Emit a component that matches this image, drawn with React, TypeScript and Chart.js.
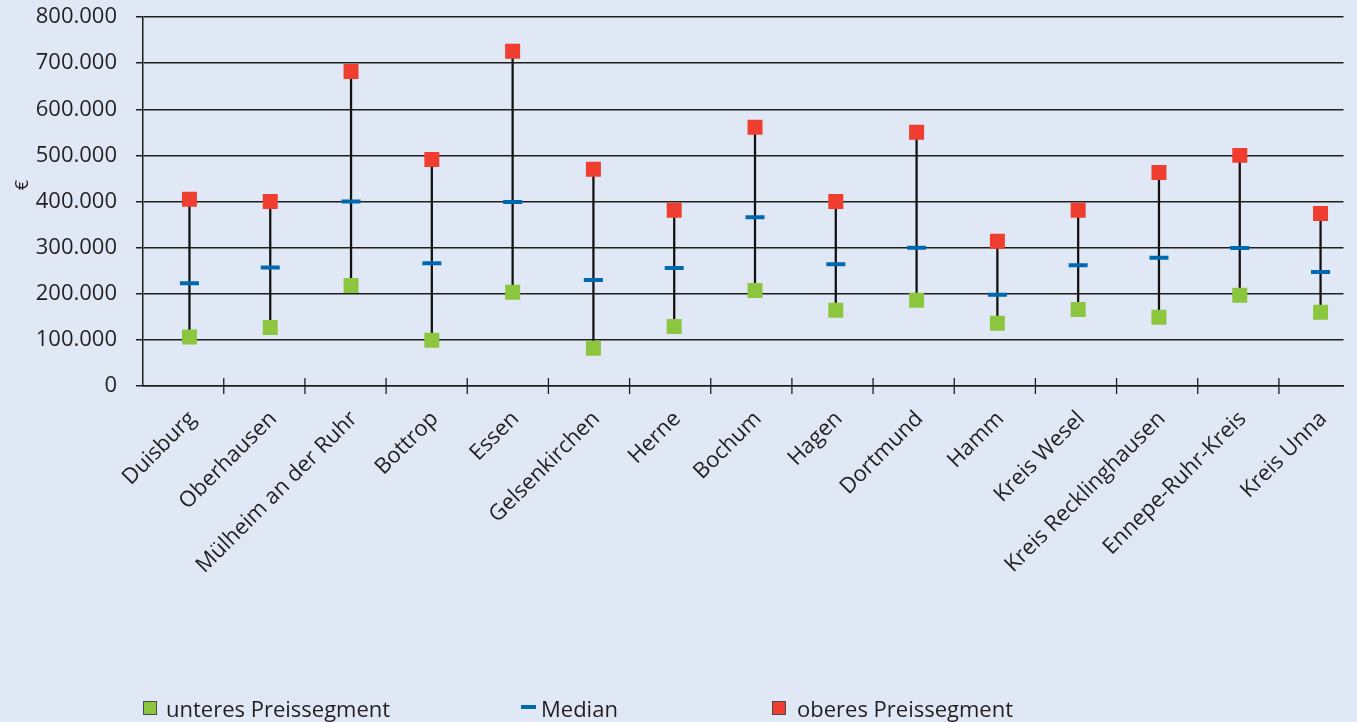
import React, { useEffect, useRef } from "react";
import { Chart, registerables } from "chart.js";

Chart.register(...registerables);

const CATEGORIES = [
  "Duisburg",
  "Oberhausen",
  "Mülheim an der Ruhr",
  "Bottrop",
  "Essen",
  "Gelsenkirchen",
  "Herne",
  "Bochum",
  "Hagen",
  "Dortmund",
  "Hamm",
  "Kreis Wesel",
  "Kreis Recklinghausen",
  "Ennepe-Ruhr-Kreis",
  "Kreis Unna",
];
const LOWER = [106000, 127000, 218000, 99000, 203000, 82000, 129000, 207000, 164000, 186000, 136000, 166000, 149000, 197000, 160000];
const MEDIAN = [223000, 257000, 400000, 266000, 399000, 230000, 256000, 366000, 264000, 300000, 198000, 262000, 278000, 299000, 247000];
const UPPER = [405000, 400000, 682000, 491000, 726000, 470000, 381000, 561000, 400000, 550000, 314000, 381000, 463000, 500000, 374000];
const Y_TICKS = [0, 100000, 200000, 300000, 400000, 500000, 600000, 700000, 800000];
const LEGEND_LABELS = ["unteres Preissegment", "Median", "oberes Preissegment"];
const Y_TITLE = "€";

const FONT = "'Open Sans', 'Noto Sans', sans-serif";
const TEXT = "#231f20";
const GRID = "#1e1e1e";
const GREEN = "#8cc63e";
const BLUE = "#0068ac";
const RED = "#ef3e2f";

const fmt = (v: number) => String(v).replace(/\B(?=(\d{3})+(?!\d))/g, ".");

const crossTicks = {
  id: "crossTicks",
  afterDraw(chart: any) {
    const { ctx, scales } = chart;
    const x = scales.x;
    const bottom = chart.chartArea.bottom;
    ctx.save();
    ctx.strokeStyle = GRID;
    ctx.lineWidth = 1.3;
    for (let k = 1; k <= CATEGORIES.length; k++) {
      const px = x.getPixelForValue(-0.58 + 1.0046 * k);
      if (px > chart.chartArea.right) continue;
      ctx.beginPath();
      ctx.moveTo(px, bottom - 8);
      ctx.lineTo(px, bottom + 8);
      ctx.stroke();
    }
    ctx.restore();
  },
};

export default function App() {
  const ref = useRef<HTMLCanvasElement>(null);

  useEffect(() => {
    if (!ref.current) return;
    const chart = new Chart(ref.current, {
      type: "scatter",
      data: {
        datasets: [
          {
            type: "bar",
            label: "range",
            data: CATEGORIES.map((_, i) => ({ x: i, y: [LOWER[i], UPPER[i]] })) as any,
            backgroundColor: "#111111",
            borderWidth: 0,
            barThickness: 1.6,
            order: 5,
          } as any,
          {
            label: LEGEND_LABELS[0],
            data: LOWER.map((v, i) => ({ x: i, y: v })),
            pointStyle: "rect",
            pointRadius: 10.6,
            backgroundColor: GREEN,
            borderWidth: 0,
            order: 1,
          },
          {
            label: LEGEND_LABELS[1],
            data: MEDIAN.map((v, i) => ({ x: i, y: v })),
            pointStyle: "line",
            pointRadius: 9.5,
            borderColor: BLUE,
            borderWidth: 4,
            order: 1,
          },
          {
            label: LEGEND_LABELS[2],
            data: UPPER.map((v, i) => ({ x: i, y: v })),
            pointStyle: "rect",
            pointRadius: 10.6,
            backgroundColor: RED,
            borderWidth: 0,
            order: 1,
          },
        ],
      },
      plugins: [crossTicks],
      options: {
        responsive: false,
        animation: false,
        layout: { padding: { top: 17, right: 0, left: 0, bottom: 0 } },
        plugins: {
          legend: { display: false },
          tooltip: { enabled: false },
        },
        scales: {
          x: {
            type: "linear",
            offset: false,
            min: -0.575,
            max: 14.284,
            afterBuildTicks: (scale: any) => {
              scale.ticks = CATEGORIES.map((_, i) => ({ value: i }));
            },
            afterFit: (scale: any) => {
              scale.height = 722 - 386;
              scale.paddingLeft = 0;
              scale.paddingRight = 0;
            },
            grid: { display: false, offset: false },
            border: { display: true, color: GRID, width: 1.5 },
            ticks: {
              autoSkip: false,
              minRotation: 45,
              maxRotation: 45,
              padding: 12,
              labelOffset: 3,
              color: TEXT,
              font: { family: FONT, size: 22 },
              callback: (v: any) => CATEGORIES[Math.round(Number(v))] ?? "",
            },
          },
          y: {
            min: 0,
            max: 800000,
            afterBuildTicks: (scale: any) => {
              scale.ticks = Y_TICKS.map((v) => ({ value: v }));
            },
            afterFit: (scale: any) => {
              scale.width = 143;
              scale.paddingTop = 0;
              scale.paddingBottom = 0;
            },
            grid: { color: GRID, lineWidth: 1.5, tickLength: 7 },
            border: { display: true, color: GRID, width: 1.5 },
            ticks: {
              padding: 19,
              color: TEXT,
              font: { family: FONT, size: 22 },
              callback: (v: any) => fmt(Number(v)),
            },
          },
        },
      } as any,
    });
    return () => chart.destroy();
  }, []);

  const legendText: React.CSSProperties = {
    position: "absolute",
    top: 694,
    lineHeight: "28px",
    fontFamily: FONT,
    fontSize: 22,
    color: TEXT,
    whiteSpace: "nowrap",
  };

  return (
    <div
      style={{
        position: "fixed",
        left: 0,
        top: 0,
        width: 1357,
        height: 722,
        background: "#e1e8f5",
        overflow: "hidden",
      }}
    >
      <canvas ref={ref} width={1357} height={722} style={{ display: "block", width: 1357, height: 722 }} />
      <div
        style={{
          position: "absolute",
          left: 10,
          top: 174,
          width: 22,
          height: 22,
          lineHeight: "22px",
          textAlign: "center",
          fontFamily: FONT,
          fontSize: 18,
          color: TEXT,
          transform: "rotate(-90deg)",
        }}
      >
        {Y_TITLE}
      </div>
      <div style={{ position: "absolute", left: 143, top: 701, width: 12, height: 12, background: GREEN, border: "1px solid #4a4a4a" }} />
      <div style={{ ...legendText, left: 166 }}>{LEGEND_LABELS[0]}</div>
      <div style={{ position: "absolute", left: 521, top: 705, width: 15, height: 4, background: BLUE }} />
      <div style={{ ...legendText, left: 541 }}>{LEGEND_LABELS[1]}</div>
      <div style={{ position: "absolute", left: 772, top: 701, width: 12, height: 12, background: RED, border: "1px solid #4a4a4a" }} />
      <div style={{ ...legendText, left: 797 }}>{LEGEND_LABELS[2]}</div>
    </div>
  );
}
